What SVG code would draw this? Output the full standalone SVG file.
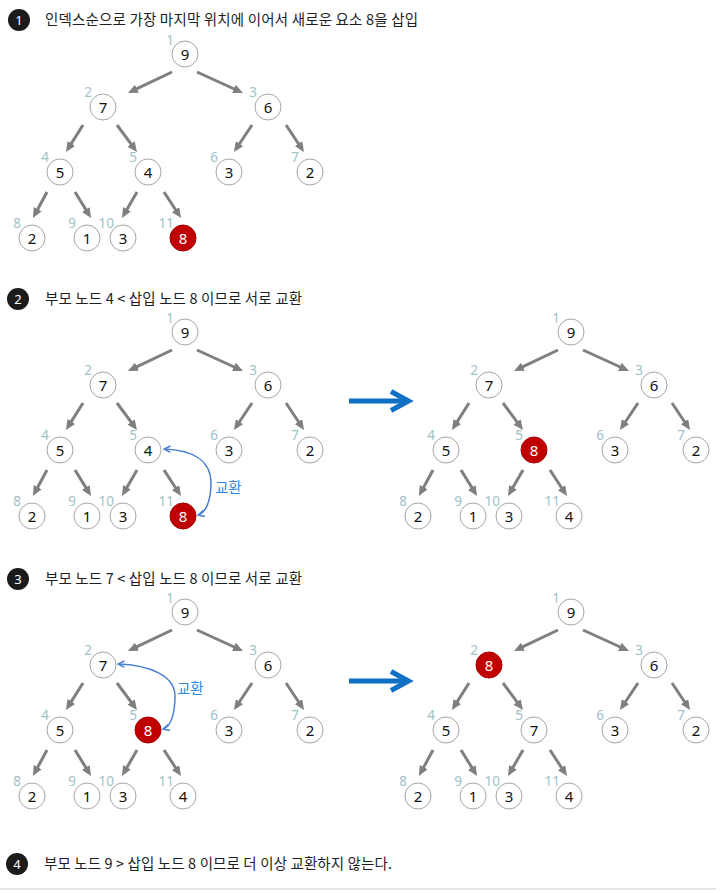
<svg xmlns="http://www.w3.org/2000/svg" xmlns:xlink="http://www.w3.org/1999/xlink" width="726" height="893" viewBox="0 0 726 893">
<style>
  text { font-family: "Noto Sans", "Noto Sans CJK KR", sans-serif; }
  .hdr { font-size: 14.5px; fill: #1e1e1e; font-family: "Noto Sans CJK KR", "Noto Sans", sans-serif; }
  .badge circle { fill: #1b1b1b; }
  .badge text { font-size: 13px; fill: #ffffff; text-anchor: middle; }
  .node circle { fill: #ffffff; stroke: #a6a6a6; stroke-width: 1; }
  .node.hot circle { fill: #c00000; stroke: #a80000; }
  .node .v { font-size: 15px; fill: #111111; text-anchor: middle; }
  .node.hot .v { fill: #ffffff; }
  .node .idx { font-size: 13.5px; fill: #a0c2c8; text-anchor: end; }
  .edge { stroke: #7f7f7f; stroke-width: 3; marker-end: url(#ah); }
  .swap { fill: none; stroke: #4a7fd6; stroke-width: 1.5; marker-start: url(#sw); marker-end: url(#sw); }
  .swaplbl { font-size: 14.5px; fill: #2e8ad6; font-family: "Noto Sans CJK KR", sans-serif; }
  .big { fill: none; stroke: #1170c4; stroke-width: 5; }
</style>
<defs>
  <marker id="ah" markerUnits="userSpaceOnUse" viewBox="0 0 10 9" markerWidth="10" markerHeight="9" refX="4" refY="4.5" orient="auto">
    <path d="M0,0 L10,4.5 L0,9 z" fill="#7f7f7f"/>
  </marker>
  <marker id="sw" markerUnits="userSpaceOnUse" viewBox="0 0 10 10" markerWidth="8" markerHeight="8" refX="9" refY="5" orient="auto-start-reverse">
    <path d="M1,1 L9,5 L1,9" fill="none" stroke="#4a7fd6" stroke-width="1.8"/>
  </marker>
</defs>
<rect width="726" height="893" fill="#ffffff"/>

<!-- headers -->
<g id="step1-header">
  <g class="badge"><circle cx="19" cy="20" r="11"/><text x="19" y="25">1</text></g>
  <text class="hdr" x="45" y="25" textLength="373" lengthAdjust="spacing">인덱스순으로 가장 마지막 위치에 이어서 새로운 요소 8을 삽입</text>
</g>
<g id="step2-header">
  <g class="badge"><circle cx="18" cy="299" r="11"/><text x="18" y="304">2</text></g>
  <text class="hdr" x="45" y="304" textLength="257" lengthAdjust="spacing">부모 노드 4 &lt; 삽입 노드 8 이므로 서로 교환</text>
</g>
<g id="step3-header">
  <g class="badge"><circle cx="18" cy="579" r="11"/><text x="18" y="584">3</text></g>
  <text class="hdr" x="45" y="584" textLength="257" lengthAdjust="spacing">부모 노드 7 &lt; 삽입 노드 8 이므로 서로 교환</text>
</g>
<g id="step4-header">
  <g class="badge"><circle cx="17" cy="864" r="11"/><text x="17" y="869">4</text></g>
  <text class="hdr" x="44" y="869" textLength="348" lengthAdjust="spacing">부모 노드 9 &gt; 삽입 노드 8 이므로 더 이상 교환하지 않는다.</text>
</g>

<!-- connectors -->
<g id="connectors">
  <g id="edges-s1">
    <line class="edge" x1="172" y1="72" x2="133.4" y2="90.4"/>
    <line class="edge" x1="197" y1="72" x2="237.5" y2="90.5"/>
    <line class="edge" x1="83" y1="125" x2="69.2" y2="146.9"/>
    <line class="edge" x1="117" y1="125" x2="133.4" y2="147.2"/>
    <line class="edge" x1="252" y1="125" x2="237.3" y2="147"/>
    <line class="edge" x1="286" y1="125" x2="300.7" y2="147"/>
    <line class="edge" x1="47" y1="192" x2="35.8" y2="212.7"/>
    <line class="edge" x1="75" y1="192" x2="87.9" y2="212.9"/>
    <line class="edge" x1="137" y1="192" x2="125" y2="212.8"/>
    <line class="edge" x1="164" y1="192" x2="177.7" y2="213"/>
  </g>
  <g id="edges-s2a" transform="translate(0,278)">
    <line class="edge" x1="172" y1="72" x2="133.4" y2="90.4"/>
    <line class="edge" x1="197" y1="72" x2="237.5" y2="90.5"/>
    <line class="edge" x1="83" y1="125" x2="69.2" y2="146.9"/>
    <line class="edge" x1="117" y1="125" x2="133.4" y2="147.2"/>
    <line class="edge" x1="252" y1="125" x2="237.3" y2="147"/>
    <line class="edge" x1="286" y1="125" x2="300.7" y2="147"/>
    <line class="edge" x1="47" y1="192" x2="35.8" y2="212.7"/>
    <line class="edge" x1="75" y1="192" x2="87.9" y2="212.9"/>
    <line class="edge" x1="137" y1="192" x2="125" y2="212.8"/>
    <line class="edge" x1="164" y1="192" x2="177.7" y2="213"/>
  </g>
  <g id="edges-s2b" transform="translate(386,278)">
    <line class="edge" x1="172" y1="72" x2="133.4" y2="90.4"/>
    <line class="edge" x1="197" y1="72" x2="237.5" y2="90.5"/>
    <line class="edge" x1="83" y1="125" x2="69.2" y2="146.9"/>
    <line class="edge" x1="117" y1="125" x2="133.4" y2="147.2"/>
    <line class="edge" x1="252" y1="125" x2="237.3" y2="147"/>
    <line class="edge" x1="286" y1="125" x2="300.7" y2="147"/>
    <line class="edge" x1="47" y1="192" x2="35.8" y2="212.7"/>
    <line class="edge" x1="75" y1="192" x2="87.9" y2="212.9"/>
    <line class="edge" x1="137" y1="192" x2="125" y2="212.8"/>
    <line class="edge" x1="164" y1="192" x2="177.7" y2="213"/>
  </g>
  <g id="edges-s3a" transform="translate(0,558)">
    <line class="edge" x1="172" y1="72" x2="133.4" y2="90.4"/>
    <line class="edge" x1="197" y1="72" x2="237.5" y2="90.5"/>
    <line class="edge" x1="83" y1="125" x2="69.2" y2="146.9"/>
    <line class="edge" x1="117" y1="125" x2="133.4" y2="147.2"/>
    <line class="edge" x1="252" y1="125" x2="237.3" y2="147"/>
    <line class="edge" x1="286" y1="125" x2="300.7" y2="147"/>
    <line class="edge" x1="47" y1="192" x2="35.8" y2="212.7"/>
    <line class="edge" x1="75" y1="192" x2="87.9" y2="212.9"/>
    <line class="edge" x1="137" y1="192" x2="125" y2="212.8"/>
    <line class="edge" x1="164" y1="192" x2="177.7" y2="213"/>
  </g>
  <g id="edges-s3b" transform="translate(386,558)">
    <line class="edge" x1="172" y1="72" x2="133.4" y2="90.4"/>
    <line class="edge" x1="197" y1="72" x2="237.5" y2="90.5"/>
    <line class="edge" x1="83" y1="125" x2="69.2" y2="146.9"/>
    <line class="edge" x1="117" y1="125" x2="133.4" y2="147.2"/>
    <line class="edge" x1="252" y1="125" x2="237.3" y2="147"/>
    <line class="edge" x1="286" y1="125" x2="300.7" y2="147"/>
    <line class="edge" x1="47" y1="192" x2="35.8" y2="212.7"/>
    <line class="edge" x1="75" y1="192" x2="87.9" y2="212.9"/>
    <line class="edge" x1="137" y1="192" x2="125" y2="212.8"/>
    <line class="edge" x1="164" y1="192" x2="177.7" y2="213"/>
  </g>
  <g id="swap-arrows">
    <path class="swap" d="M198,515 C206,513 211,500 211,483 C211,462 195,450 164,449"/>
    <path class="swap" d="M163,729 C171,727 175,713 175,696 C175,676 150,665 118,664"/>
  </g>
  <g id="step-arrows">
    <line class="big" x1="349" y1="401" x2="407" y2="401"/>
    <path class="big" d="M391,391.5 L408.5,401 L391,410.5"/>
    <line class="big" x1="349" y1="681" x2="407" y2="681"/>
    <path class="big" d="M391,671.5 L408.5,681 L391,690.5"/>
  </g>
</g>
<text class="swaplbl" x="215" y="493">교환</text>
<text class="swaplbl" x="177" y="694">교환</text>

<!-- step 1 tree -->
<g id="tree-s1">
  <g id="s1-n1" class="node" transform="translate(185,54)"><circle r="13"/><text class="v" y="5.5">9</text><text class="idx" x="-11" y="-9">1</text></g>
  <g id="s1-n2" class="node" transform="translate(103,107)"><circle r="13"/><text class="v" y="5.5">7</text><text class="idx" x="-11" y="-10">2</text></g>
  <g id="s1-n3" class="node" transform="translate(268,107)"><circle r="13"/><text class="v" y="5.5">6</text><text class="idx" x="-11" y="-10">3</text></g>
  <g id="s1-n4" class="node" transform="translate(60,172)"><circle r="13"/><text class="v" y="5.5">5</text><text class="idx" x="-11" y="-10">4</text></g>
  <g id="s1-n5" class="node" transform="translate(148,172)"><circle r="13"/><text class="v" y="5.5">4</text><text class="idx" x="-11" y="-10">5</text></g>
  <g id="s1-n6" class="node" transform="translate(229,172)"><circle r="13"/><text class="v" y="5.5">3</text><text class="idx" x="-11" y="-10">6</text></g>
  <g id="s1-n7" class="node" transform="translate(310,172)"><circle r="13"/><text class="v" y="5.5">2</text><text class="idx" x="-11" y="-10">7</text></g>
  <g id="s1-n8" class="node" transform="translate(32,238)"><circle r="13"/><text class="v" y="5.5">2</text><text class="idx" x="-11" y="-10">8</text></g>
  <g id="s1-n9" class="node" transform="translate(87,238)"><circle r="13"/><text class="v" y="5.5">1</text><text class="idx" x="-11" y="-10">9</text></g>
  <g id="s1-n10" class="node" transform="translate(123,238)"><circle r="13"/><text class="v" y="5.5">3</text><text class="idx" x="-9" y="-10">10</text></g>
  <g id="s1-n11" class="node hot" transform="translate(183,238)"><circle r="13"/><text class="v" y="5.5">8</text><text class="idx" x="-9" y="-10">11</text></g>
</g>

<!-- step 2 left tree -->
<g id="tree-s2a">
  <g id="s2a-n1" class="node" transform="translate(185,332)"><circle r="13"/><text class="v" y="5.5">9</text><text class="idx" x="-11" y="-9">1</text></g>
  <g id="s2a-n2" class="node" transform="translate(103,385)"><circle r="13"/><text class="v" y="5.5">7</text><text class="idx" x="-11" y="-10">2</text></g>
  <g id="s2a-n3" class="node" transform="translate(268,385)"><circle r="13"/><text class="v" y="5.5">6</text><text class="idx" x="-11" y="-10">3</text></g>
  <g id="s2a-n4" class="node" transform="translate(60,450)"><circle r="13"/><text class="v" y="5.5">5</text><text class="idx" x="-11" y="-10">4</text></g>
  <g id="s2a-n5" class="node" transform="translate(148,450)"><circle r="13"/><text class="v" y="5.5">4</text><text class="idx" x="-11" y="-10">5</text></g>
  <g id="s2a-n6" class="node" transform="translate(229,450)"><circle r="13"/><text class="v" y="5.5">3</text><text class="idx" x="-11" y="-10">6</text></g>
  <g id="s2a-n7" class="node" transform="translate(310,450)"><circle r="13"/><text class="v" y="5.5">2</text><text class="idx" x="-11" y="-10">7</text></g>
  <g id="s2a-n8" class="node" transform="translate(32,516)"><circle r="13"/><text class="v" y="5.5">2</text><text class="idx" x="-11" y="-10">8</text></g>
  <g id="s2a-n9" class="node" transform="translate(87,516)"><circle r="13"/><text class="v" y="5.5">1</text><text class="idx" x="-11" y="-10">9</text></g>
  <g id="s2a-n10" class="node" transform="translate(123,516)"><circle r="13"/><text class="v" y="5.5">3</text><text class="idx" x="-9" y="-10">10</text></g>
  <g id="s2a-n11" class="node hot" transform="translate(183,516)"><circle r="13"/><text class="v" y="5.5">8</text><text class="idx" x="-9" y="-10">11</text></g>
</g>

<!-- step 2 right tree -->
<g id="tree-s2b">
  <g id="s2b-n1" class="node" transform="translate(571,332)"><circle r="13"/><text class="v" y="5.5">9</text><text class="idx" x="-11" y="-9">1</text></g>
  <g id="s2b-n2" class="node" transform="translate(489,385)"><circle r="13"/><text class="v" y="5.5">7</text><text class="idx" x="-11" y="-10">2</text></g>
  <g id="s2b-n3" class="node" transform="translate(654,385)"><circle r="13"/><text class="v" y="5.5">6</text><text class="idx" x="-11" y="-10">3</text></g>
  <g id="s2b-n4" class="node" transform="translate(446,450)"><circle r="13"/><text class="v" y="5.5">5</text><text class="idx" x="-11" y="-10">4</text></g>
  <g id="s2b-n5" class="node hot" transform="translate(534,450)"><circle r="13"/><text class="v" y="5.5">8</text><text class="idx" x="-11" y="-10">5</text></g>
  <g id="s2b-n6" class="node" transform="translate(615,450)"><circle r="13"/><text class="v" y="5.5">3</text><text class="idx" x="-11" y="-10">6</text></g>
  <g id="s2b-n7" class="node" transform="translate(696,450)"><circle r="13"/><text class="v" y="5.5">2</text><text class="idx" x="-11" y="-10">7</text></g>
  <g id="s2b-n8" class="node" transform="translate(418,516)"><circle r="13"/><text class="v" y="5.5">2</text><text class="idx" x="-11" y="-10">8</text></g>
  <g id="s2b-n9" class="node" transform="translate(473,516)"><circle r="13"/><text class="v" y="5.5">1</text><text class="idx" x="-11" y="-10">9</text></g>
  <g id="s2b-n10" class="node" transform="translate(509,516)"><circle r="13"/><text class="v" y="5.5">3</text><text class="idx" x="-9" y="-10">10</text></g>
  <g id="s2b-n11" class="node" transform="translate(569,516)"><circle r="13"/><text class="v" y="5.5">4</text><text class="idx" x="-9" y="-10">11</text></g>
</g>

<!-- step 3 left tree -->
<g id="tree-s3a">
  <g id="s3a-n1" class="node" transform="translate(185,612)"><circle r="13"/><text class="v" y="5.5">9</text><text class="idx" x="-11" y="-9">1</text></g>
  <g id="s3a-n2" class="node" transform="translate(103,665)"><circle r="13"/><text class="v" y="5.5">7</text><text class="idx" x="-11" y="-10">2</text></g>
  <g id="s3a-n3" class="node" transform="translate(268,665)"><circle r="13"/><text class="v" y="5.5">6</text><text class="idx" x="-11" y="-10">3</text></g>
  <g id="s3a-n4" class="node" transform="translate(60,730)"><circle r="13"/><text class="v" y="5.5">5</text><text class="idx" x="-11" y="-10">4</text></g>
  <g id="s3a-n5" class="node hot" transform="translate(148,730)"><circle r="13"/><text class="v" y="5.5">8</text><text class="idx" x="-11" y="-10">5</text></g>
  <g id="s3a-n6" class="node" transform="translate(229,730)"><circle r="13"/><text class="v" y="5.5">3</text><text class="idx" x="-11" y="-10">6</text></g>
  <g id="s3a-n7" class="node" transform="translate(310,730)"><circle r="13"/><text class="v" y="5.5">2</text><text class="idx" x="-11" y="-10">7</text></g>
  <g id="s3a-n8" class="node" transform="translate(32,796)"><circle r="13"/><text class="v" y="5.5">2</text><text class="idx" x="-11" y="-10">8</text></g>
  <g id="s3a-n9" class="node" transform="translate(87,796)"><circle r="13"/><text class="v" y="5.5">1</text><text class="idx" x="-11" y="-10">9</text></g>
  <g id="s3a-n10" class="node" transform="translate(123,796)"><circle r="13"/><text class="v" y="5.5">3</text><text class="idx" x="-9" y="-10">10</text></g>
  <g id="s3a-n11" class="node" transform="translate(183,796)"><circle r="13"/><text class="v" y="5.5">4</text><text class="idx" x="-9" y="-10">11</text></g>
</g>

<!-- step 3 right tree -->
<g id="tree-s3b">
  <g id="s3b-n1" class="node" transform="translate(571,612)"><circle r="13"/><text class="v" y="5.5">9</text><text class="idx" x="-11" y="-9">1</text></g>
  <g id="s3b-n2" class="node hot" transform="translate(489,665)"><circle r="13"/><text class="v" y="5.5">8</text><text class="idx" x="-11" y="-10">2</text></g>
  <g id="s3b-n3" class="node" transform="translate(654,665)"><circle r="13"/><text class="v" y="5.5">6</text><text class="idx" x="-11" y="-10">3</text></g>
  <g id="s3b-n4" class="node" transform="translate(446,730)"><circle r="13"/><text class="v" y="5.5">5</text><text class="idx" x="-11" y="-10">4</text></g>
  <g id="s3b-n5" class="node" transform="translate(534,730)"><circle r="13"/><text class="v" y="5.5">7</text><text class="idx" x="-11" y="-10">5</text></g>
  <g id="s3b-n6" class="node" transform="translate(615,730)"><circle r="13"/><text class="v" y="5.5">3</text><text class="idx" x="-11" y="-10">6</text></g>
  <g id="s3b-n7" class="node" transform="translate(696,730)"><circle r="13"/><text class="v" y="5.5">2</text><text class="idx" x="-11" y="-10">7</text></g>
  <g id="s3b-n8" class="node" transform="translate(418,796)"><circle r="13"/><text class="v" y="5.5">2</text><text class="idx" x="-11" y="-10">8</text></g>
  <g id="s3b-n9" class="node" transform="translate(473,796)"><circle r="13"/><text class="v" y="5.5">1</text><text class="idx" x="-11" y="-10">9</text></g>
  <g id="s3b-n10" class="node" transform="translate(509,796)"><circle r="13"/><text class="v" y="5.5">3</text><text class="idx" x="-9" y="-10">10</text></g>
  <g id="s3b-n11" class="node" transform="translate(569,796)"><circle r="13"/><text class="v" y="5.5">4</text><text class="idx" x="-9" y="-10">11</text></g>
</g>

<line x1="0" y1="889" x2="716" y2="889" stroke="#dedede" stroke-width="1.5"/>
</svg>
